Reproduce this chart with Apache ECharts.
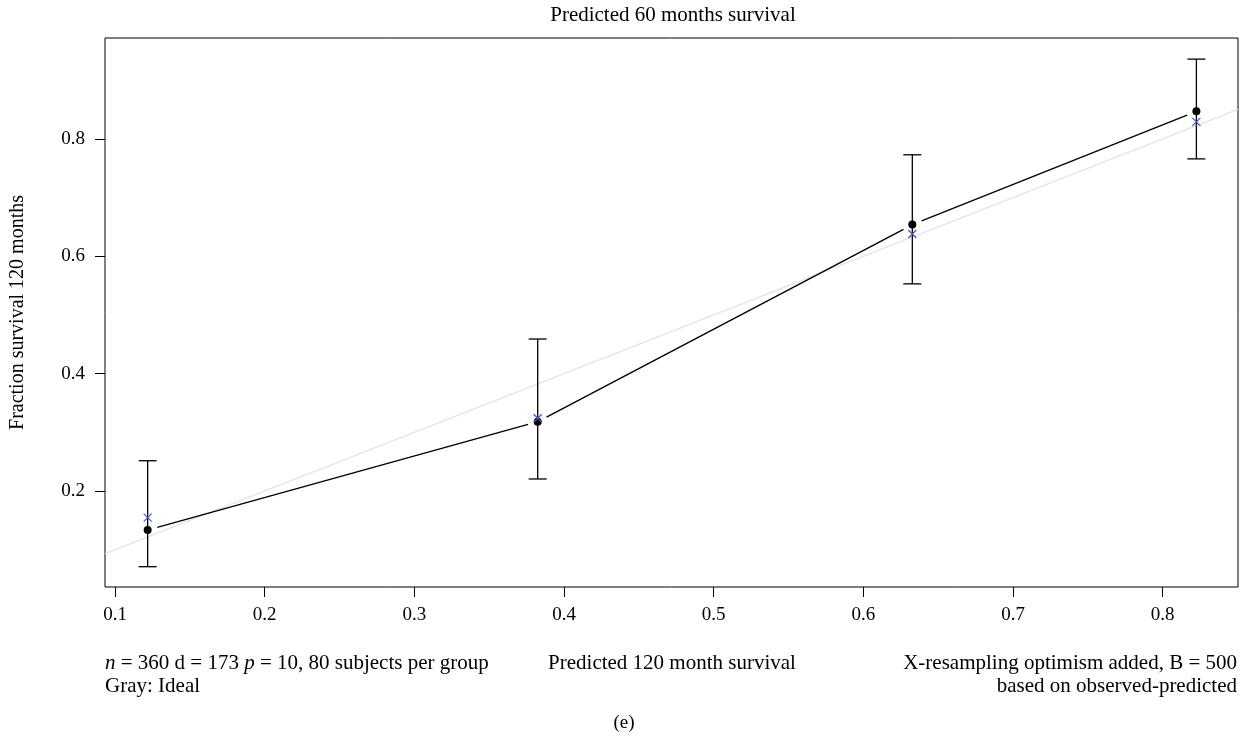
<!DOCTYPE html>
<html>
<head>
<meta charset="utf-8">
<script src="https://cdn.jsdelivr.net/npm/echarts@6/dist/echarts.min.js"></script>
<style>html,body{margin:0;padding:0;background:#fff}#c{width:1249px;height:742px}</style>
</head>
<body>
<div id="c"></div>
<script>
// Data
const predicted = [0.1218, 0.3824, 0.6327, 0.8225];
const observed = [0.1335, 0.318, 0.654, 0.847];
const optimismCorrected = [0.1545, 0.324, 0.638, 0.829];
const ciLower = [0.071, 0.2205, 0.553, 0.766];
const ciUpper = [0.2516, 0.459, 0.773, 0.936];
const xTicks = [0.1, 0.2, 0.3, 0.4, 0.5, 0.6, 0.7, 0.8];
const yTicks = [0.2, 0.4, 0.6, 0.8];
const xRange = [0.0933, 0.8503];
const yRange = [0.0364, 0.972];
const ideal = [[xRange[0], xRange[0]], [xRange[1], xRange[1]]];

const FONT = '"Liberation Serif","DejaVu Serif",serif';
const chart = echarts.init(document.getElementById('c'), null, {renderer: 'canvas'});

const errData = predicted.map((x, i) => [x, ciLower[i], ciUpper[i]]);
const segData = predicted.slice(0, -1).map((x, i) => [x, observed[i], predicted[i + 1], observed[i + 1]]);

function txt(x, y, text, align, extra) {
  return Object.assign({type: 'text', x: x, y: y, style: {text: text, fontSize: 21, fontFamily: FONT, fill: '#000', textAlign: align, textVerticalAlign: 'middle'}}, extra || {});
}

chart.setOption({
  animation: false,
  backgroundColor: '#fff',
  textStyle: {fontFamily: FONT},
  grid: {left: 105, top: 38, right: 11, bottom: 155, show: true, borderColor: '#000', borderWidth: 1, backgroundColor: 'transparent', containLabel: false, outerBoundsMode: 'none'},
  xAxis: {
    type: 'value', min: xRange[0], max: xRange[1],
    axisLine: {show: false},
    splitLine: {show: false},
    axisTick: {show: true, inside: false, length: 10, customValues: xTicks, lineStyle: {color: '#000', width: 1}},
    axisLabel: {customValues: xTicks, margin: 19, fontSize: 19, color: '#000', fontFamily: FONT, formatter: v => v.toFixed(1)}
  },
  yAxis: {
    type: 'value', min: yRange[0], max: yRange[1],
    name: 'Fraction survival 120 months', nameLocation: 'middle', nameGap: 77, nameRotate: 90,
    nameTextStyle: {fontSize: 20, color: '#000', fontFamily: FONT},
    axisLine: {show: false},
    splitLine: {show: false},
    axisTick: {show: true, inside: false, length: 10, customValues: yTicks, lineStyle: {color: '#000', width: 1}},
    axisLabel: {customValues: yTicks, margin: 20, fontSize: 19, color: '#000', fontFamily: FONT, formatter: v => v.toFixed(1)}
  },
  graphic: [
    txt(673, 15, 'Predicted 60 months survival', 'center'),
    {type: 'text', x: 105, y: 663, style: {rich: {i: {fontStyle: 'italic', fontSize: 21, fontFamily: FONT, fill: '#000'}, r: {fontSize: 21, fontFamily: FONT, fill: '#000'}}, text: '{i|n}{r| = 360 d = 173 }{i|p}{r| = 10, 80 subjects per group}', fontSize: 21, fontFamily: FONT, fill: '#000', textVerticalAlign: 'middle'}},
    txt(105, 686, 'Gray: Ideal', 'left'),
    txt(672, 663, 'Predicted 120 month survival', 'center'),
    txt(1237, 663, 'X-resampling optimism added, B = 500', 'right'),
    txt(1237, 686, 'based on observed-predicted', 'right'),
    txt(624, 723, '(e)', 'center', {style: {text: '(e)', fontSize: 19, fontFamily: FONT, fill: '#000', textAlign: 'center', textVerticalAlign: 'middle'}})
  ],
  series: [
    {
      name: 'Ideal', type: 'line', data: ideal, symbol: 'none', clip: true,
      lineStyle: {color: '#e3e3e3', width: 1.2}, z: 1
    },
    {
      name: 'Observed line', type: 'custom', data: segData, clip: true, z: 2,
      renderItem: function (params, api) {
        const p1 = api.coord([api.value(0), api.value(1)]);
        const p2 = api.coord([api.value(2), api.value(3)]);
        const dx = p2[0] - p1[0], dy = p2[1] - p1[1];
        const len = Math.sqrt(dx * dx + dy * dy);
        const g = 10;
        const ux = dx / len, uy = dy / len;
        return {
          type: 'line',
          shape: {x1: p1[0] + ux * g, y1: p1[1] + uy * g, x2: p2[0] - ux * g, y2: p2[1] - uy * g},
          style: {stroke: '#000', lineWidth: 1.4}
        };
      }
    },
    {
      name: 'CI', type: 'custom', data: errData, z: 3,
      renderItem: function (params, api) {
        const x = api.value(0);
        const lo = api.coord([x, api.value(1)]);
        const hi = api.coord([x, api.value(2)]);
        const w = 9;
        return {
          type: 'group',
          children: [
            {type: 'line', shape: {x1: lo[0], y1: lo[1], x2: hi[0], y2: hi[1]}, style: {stroke: '#000', lineWidth: 1.3}},
            {type: 'line', shape: {x1: lo[0] - w, y1: lo[1], x2: lo[0] + w, y2: lo[1]}, style: {stroke: '#000', lineWidth: 1.3}},
            {type: 'line', shape: {x1: hi[0] - w, y1: hi[1], x2: hi[0] + w, y2: hi[1]}, style: {stroke: '#000', lineWidth: 1.3}}
          ]
        };
      }
    },
    {
      name: 'Observed', type: 'scatter', data: predicted.map((x, i) => [x, observed[i]]),
      symbol: 'circle', symbolSize: 8, itemStyle: {color: '#000', opacity: 1}, z: 4
    },
    {
      name: 'Optimism corrected', type: 'custom', data: predicted.map((x, i) => [x, optimismCorrected[i]]), z: 5,
      renderItem: function (params, api) {
        const p = api.coord([api.value(0), api.value(1)]);
        const s = 4;
        return {
          type: 'group',
          children: [
            {type: 'line', shape: {x1: p[0] - s, y1: p[1] - s, x2: p[0] + s, y2: p[1] + s}, style: {stroke: '#4a55c0', lineWidth: 1.2}},
            {type: 'line', shape: {x1: p[0] - s, y1: p[1] + s, x2: p[0] + s, y2: p[1] - s}, style: {stroke: '#4a55c0', lineWidth: 1.2}}
          ]
        };
      }
    }
  ]
});
</script>
</body>
</html>
